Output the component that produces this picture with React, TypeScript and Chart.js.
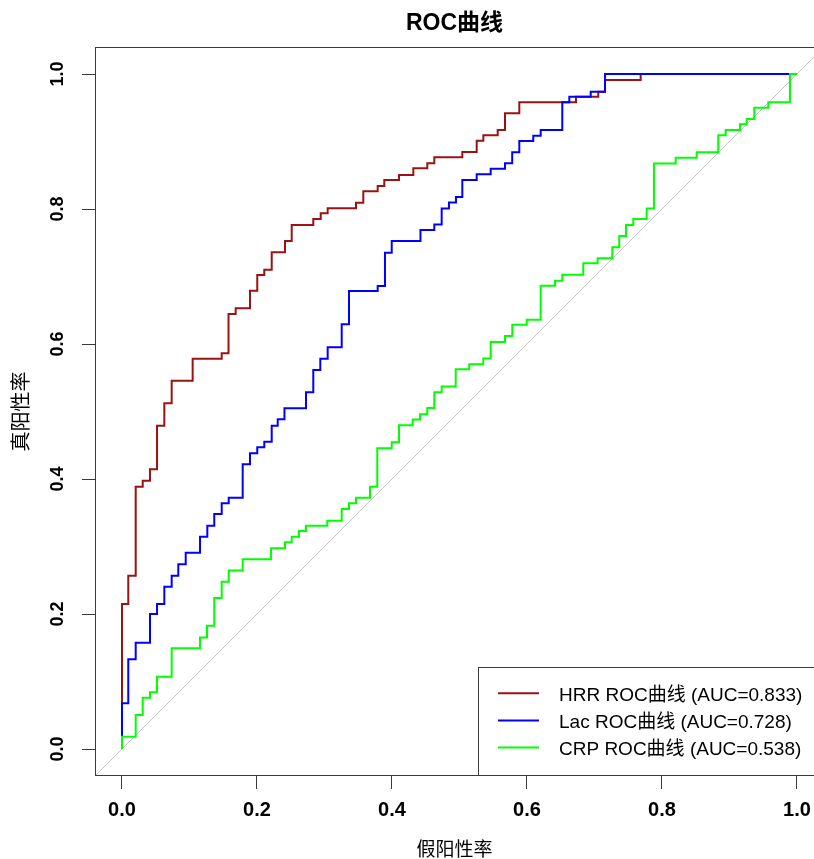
import React, { useEffect, useRef } from "react";
import { Chart, registerables } from "chart.js";

Chart.register(...registerables);

// ---- data ----
const tickValues = [0, 0.2, 0.4, 0.6, 0.8, 1.0];
const seriesNames = ["HRR", "Lac", "CRP"];
const aucValues = [0.833, 0.728, 0.538];
const seriesColors = ["#9A1212", "#0000FF", "#00FF00"];

const hrrFpr = [0.0093, 0.0203, 0.0307, 0.0415, 0.0519, 0.0627, 0.0736, 0.1047, 0.1477, 0.1578, 0.1684, 0.1896, 0.2004, 0.2108, 0.2218, 0.2415, 0.2514, 0.2834, 0.2944, 0.3047, 0.3467, 0.3575, 0.3788, 0.3886, 0.4104, 0.4316, 0.4523, 0.4627, 0.5042, 0.5255, 0.5353, 0.5566, 0.5674, 0.5886, 0.6726, 0.7056, 0.7156, 0.7684, 1.0];
const hrrTpr = [0.2148, 0.2567, 0.3886, 0.3975, 0.4144, 0.479, 0.5121, 0.5456, 0.5782, 0.5862, 0.6444, 0.6529, 0.679, 0.7022, 0.7101, 0.7359, 0.7526, 0.7763, 0.7852, 0.7936, 0.801, 0.8093, 0.8262, 0.8341, 0.843, 0.8504, 0.8603, 0.8677, 0.8766, 0.8844, 0.9012, 0.9092, 0.917, 0.9418, 0.9581, 0.9664, 0.9738, 0.9911, 1.0];

const lacFpr = [0.0093, 0.0203, 0.0415, 0.0519, 0.0627, 0.0736, 0.0834, 0.0944, 0.1156, 0.1264, 0.1367, 0.1477, 0.1581, 0.1788, 0.1896, 0.2004, 0.2108, 0.2218, 0.2307, 0.2407, 0.2726, 0.2834, 0.2938, 0.3047, 0.3255, 0.3363, 0.3788, 0.3896, 0.3996, 0.4422, 0.4627, 0.4736, 0.4844, 0.4948, 0.5042, 0.5255, 0.5462, 0.5674, 0.5781, 0.5886, 0.6093, 0.6203, 0.6523, 0.6627, 0.6944, 0.7156, 1.0];
const lacTpr = [0.0677, 0.1329, 0.1575, 0.2, 0.2148, 0.2404, 0.2567, 0.2736, 0.2908, 0.3145, 0.3308, 0.3481, 0.364, 0.3723, 0.4218, 0.4381, 0.447, 0.4553, 0.479, 0.4884, 0.5047, 0.5284, 0.5615, 0.5782, 0.5951, 0.6292, 0.6785, 0.6859, 0.7353, 0.7526, 0.7689, 0.777, 0.8007, 0.8096, 0.8178, 0.843, 0.8514, 0.8596, 0.8677, 0.884, 0.9007, 0.9086, 0.917, 0.9581, 0.9664, 0.9738, 1.0];

const crpFpr = [0.0203, 0.0307, 0.0415, 0.0519, 0.0736, 0.1156, 0.1259, 0.1367, 0.1477, 0.1582, 0.1788, 0.2207, 0.2415, 0.2514, 0.2622, 0.2726, 0.3042, 0.3255, 0.3363, 0.3467, 0.3674, 0.3782, 0.3996, 0.4104, 0.4307, 0.4415, 0.4523, 0.4627, 0.4736, 0.4944, 0.5144, 0.5353, 0.5462, 0.5674, 0.5782, 0.5996, 0.6203, 0.6415, 0.6523, 0.6834, 0.7047, 0.7264, 0.7367, 0.7467, 0.7575, 0.7773, 0.7881, 0.8203, 0.8514, 0.8834, 0.8944, 0.9156, 0.9255, 0.9367, 0.9575, 0.9896, 1.0];
const crpTpr = [0.0182, 0.0504, 0.076, 0.084, 0.1071, 0.1492, 0.1652, 0.1827, 0.2237, 0.2479, 0.2644, 0.2812, 0.2973, 0.3062, 0.3145, 0.323, 0.3308, 0.3382, 0.3556, 0.364, 0.3723, 0.3886, 0.4455, 0.4544, 0.4796, 0.4881, 0.496, 0.5052, 0.5284, 0.537, 0.5625, 0.5701, 0.5785, 0.603, 0.6119, 0.6286, 0.636, 0.6862, 0.6938, 0.7027, 0.7196, 0.727, 0.7433, 0.76, 0.7763, 0.7852, 0.8007, 0.8674, 0.876, 0.884, 0.9092, 0.917, 0.9255, 0.9333, 0.9501, 0.9581, 1.0];

const diagonal = [-0.04, 1.1];

function buildSteps(fpr: number[], tpr: number[]) {
  const pts: { x: number; y: number }[] = [{ x: 0, y: 0 }];
  let prevX = 0;
  for (let i = 0; i < fpr.length; i++) {
    pts.push({ x: prevX, y: tpr[i] });
    pts.push({ x: fpr[i], y: tpr[i] });
    prevX = fpr[i];
  }
  return pts;
}

const latinCjk = '"Liberation Sans", Arial, "Noto Sans CJK SC", sans-serif';
const tickFamily = '"Liberation Sans", Arial, sans-serif';

const boxLegendPlugin = {
  id: "boxLegend",
  afterDatasetsDraw(chart: any) {
    const { ctx, chartArea } = chart;
    const { left, top, right, bottom } = chartArea;
    ctx.save();
    ctx.strokeStyle = "#3a3a3a";
    ctx.lineWidth = 1;
    ctx.strokeRect(left + 0.5, top + 0.5, right - left + 20, bottom - top - 1);

    const lx = right - 336;
    const ly = bottom - 109;
    ctx.fillStyle = "#ffffff";
    ctx.fillRect(lx, ly, right - lx + 20, bottom - ly);
    ctx.strokeStyle = "#3a3a3a";
    ctx.strokeRect(lx + 0.5, ly + 0.5, right - lx + 20, bottom - ly - 1);

    const rowOffsets = [26.3, 53.5, 80.5];
    const items = chart.data.datasets.filter((d: any) => d.isSeries);
    items.forEach((d: any, i: number) => {
      const y = ly + rowOffsets[i];
      ctx.strokeStyle = d.borderColor;
      ctx.lineWidth = 2;
      ctx.beginPath();
      ctx.moveTo(lx + 20, y);
      ctx.lineTo(lx + 61, y);
      ctx.stroke();
      ctx.fillStyle = "#000";
      ctx.font = `19px ${latinCjk}`;
      ctx.textBaseline = "middle";
      ctx.textAlign = "left";
      ctx.fillText(d.label, lx + 81, y + 2);
    });
    ctx.restore();
  },
};

export default function App() {
  const ref = useRef<HTMLCanvasElement | null>(null);

  useEffect(() => {
    if (!ref.current) return;
    const curves = [
      buildSteps(hrrFpr, hrrTpr),
      buildSteps(lacFpr, lacTpr),
      buildSteps(crpFpr, crpTpr),
    ];
    const datasets: any[] = curves.map((pts, i) => ({
      label: `${seriesNames[i]} ROC曲线 (AUC=${aucValues[i].toFixed(3)})`,
      data: pts,
      borderColor: seriesColors[i],
      backgroundColor: seriesColors[i],
      borderWidth: 2,
      pointRadius: 0,
      tension: 0,
      fill: false,
      order: 3 - i,
      isSeries: true,
    }));
    datasets.push({
      label: "diagonal",
      data: diagonal.map((v) => ({ x: v, y: v })),
      borderColor: "#C4C4C4",
      borderWidth: 1,
      pointRadius: 0,
      fill: false,
      order: 10,
      isSeries: false,
    });

    const chart = new Chart(ref.current, {
      type: "line",
      data: { datasets },
      plugins: [boxLegendPlugin],
      options: {
        animation: false,
        responsive: false,
        devicePixelRatio: 1,
        parsing: false as any,
        layout: { padding: 0, autoPadding: false },
        plugins: {
          legend: { display: false },
          tooltip: { enabled: false },
          title: {
            display: true,
            text: "ROC曲线",
            color: "#000",
            fullSize: false,
            font: { size: 23, weight: "bold", family: latinCjk, lineHeight: 1.2 },
            padding: { top: 10, bottom: 9.4 },
          },
        },
        scales: {
          x: {
            type: "linear",
            min: -0.04,
            max: 1.0252,
            afterBuildTicks: (scale: any) => {
              scale.ticks = tickValues.map((v) => ({ value: v }));
            },
            afterFit: (scale: any) => {
              scale.height = 83;
              scale.paddingLeft = 0;
              scale.paddingRight = 0;
            },
            grid: {
              display: true,
              drawOnChartArea: false,
              drawTicks: true,
              tickLength: 13,
              color: "#3a3a3a",
              lineWidth: 1,
            },
            border: { display: false },
            ticks: {
              autoSkip: false,
              maxRotation: 0,
              minRotation: 0,
              padding: 9,
              color: "#000",
              font: { size: 20, weight: "bold", family: tickFamily, lineHeight: 1.2 },
              callback: (v: any) => Number(v).toFixed(1),
            },
            title: {
              display: true,
              text: "假阳性率",
              color: "#000",
              font: { size: 19, family: latinCjk, lineHeight: 1 },
              padding: { top: 0, bottom: -1.5 },
            },
          },
          y: {
            type: "linear",
            min: -0.04,
            max: 1.04,
            afterBuildTicks: (scale: any) => {
              scale.ticks = tickValues.map((v) => ({ value: v }));
            },
            afterFit: (scale: any) => {
              scale.width = 95;
              scale.paddingTop = 0;
              scale.paddingBottom = 0;
            },
            grid: {
              display: true,
              drawOnChartArea: false,
              drawTicks: true,
              tickLength: 13,
              color: "#3a3a3a",
              lineWidth: 1,
            },
            border: { display: false },
            ticks: {
              autoSkip: false,
              minRotation: 90,
              maxRotation: 90,
              crossAlign: "center",
              padding: 11.5,
              color: "#000",
              font: { size: 18, weight: "bold", family: tickFamily, lineHeight: 1.2 },
              callback: (v: any) => Number(v).toFixed(1),
            },
            title: {
              display: true,
              text: "真阳性率",
              color: "#000",
              font: { size: 20, family: latinCjk, lineHeight: 1 },
              padding: { top: 12, bottom: 0 },
            },
          },
        },
      } as any,
    });
    return () => chart.destroy();
  }, []);

  return (
    <div style={{ position: "absolute", left: 0, top: 0, width: 814, height: 859, background: "#fff" }}>
      <canvas ref={ref} width={814} height={859} style={{ display: "block" }} />
    </div>
  );
}
